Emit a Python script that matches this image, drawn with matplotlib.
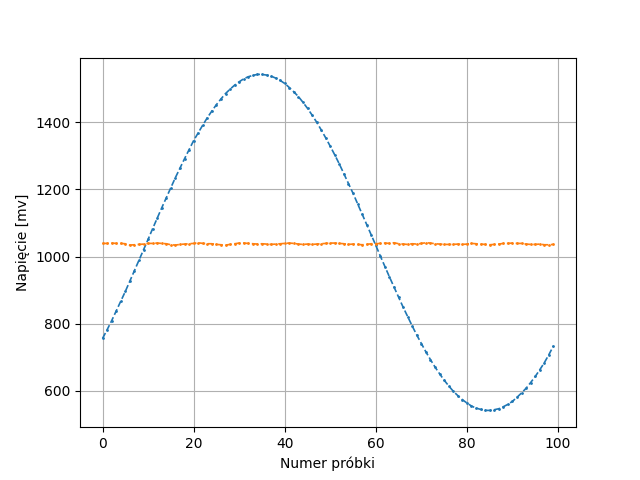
import numpy as np
import matplotlib
matplotlib.use('Agg')
import matplotlib.pyplot as plt

# napiecie na wejsciu (sinus) i napiecie odniesienia
v_in = [756, 782, 809, 838, 867, 896, 927, 958, 989, 1020,
        1051, 1083, 1114, 1145, 1175, 1205, 1235, 1263, 1291, 1318,
        1345, 1368, 1391, 1413, 1433, 1452, 1469, 1485, 1498, 1510,
        1520, 1529, 1535, 1539, 1542, 1542, 1540, 1537, 1531, 1524,
        1515, 1503, 1490, 1476, 1459, 1441, 1421, 1400, 1377, 1353,
        1328, 1302, 1275, 1246, 1217, 1188, 1157, 1126, 1095, 1064,
        1033, 1001, 970, 939, 909, 879, 849, 821, 793, 766,
        741, 716, 693, 671, 651, 632, 615, 599, 586, 574,
        564, 555, 549, 545, 542, 542, 544, 547, 553, 560,
        569, 581, 594, 608, 625, 643, 663, 684, 708, 734]

v_ref = [1039, 1039, 1040, 1039, 1039, 1038, 1034, 1035, 1036, 1037,
         1039, 1039, 1040, 1039, 1038, 1035, 1034, 1036, 1037, 1038,
         1039, 1041, 1039, 1038, 1038, 1036, 1035, 1034, 1036, 1038,
         1040, 1040, 1039, 1038, 1037, 1038, 1037, 1036, 1037, 1038,
         1039, 1040, 1039, 1037, 1036, 1037, 1036, 1037, 1038, 1039,
         1040, 1040, 1039, 1038, 1036, 1037, 1036, 1035, 1036, 1038,
         1038, 1039, 1040, 1039, 1041, 1038, 1037, 1036, 1038, 1037,
         1039, 1041, 1040, 1038, 1037, 1036, 1036, 1036, 1037, 1036,
         1037, 1039, 1038, 1037, 1036, 1035, 1036, 1037, 1039, 1039,
         1040, 1039, 1039, 1037, 1036, 1036, 1037, 1035, 1035, 1036]

x = np.arange(len(v_in))

plt.figure(figsize=(6.4, 4.8), dpi=100)
plt.plot(x, v_in, '--', marker='.', markersize=2, linewidth=1.2)
plt.plot(x, v_ref, '--', marker='.', markersize=2, linewidth=1.2)
plt.xlabel('Numer próbki')
plt.ylabel('Napięcie [mv]')
plt.grid(True)
plt.savefig('out.png', dpi=100)
